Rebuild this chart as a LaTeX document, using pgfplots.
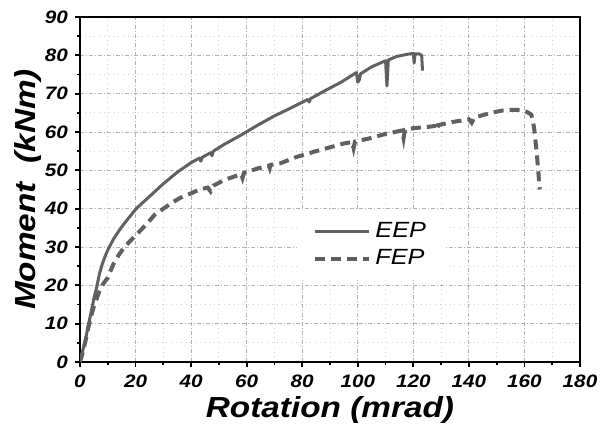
\documentclass[border=0pt]{standalone}
\usepackage{fontspec}
\setmainfont{Liberation Sans}
\newfontfamily\stretchfont[FakeStretch=1.15]{Liberation Sans}
\usepackage{pgfplots}
\pgfplotsset{compat=1.18}
\definecolor{lc}{HTML}{606060}
\begin{document}
\begin{tikzpicture}
\begin{axis}[
  scale only axis, width=250pt, height=172.5pt,
  xmin=0, xmax=180, ymin=0, ymax=90,
  xtick={0,20,...,180}, ytick={0,10,...,90},
  minor tick num=1,
  xtick pos=bottom, ytick pos=left,
  tick align=outside,
  major tick length=2.5pt, minor tick length=1.5pt,
  every tick/.style={black, line width=0.9pt},
  axis line style={line width=1pt},
  grid=both,
  major grid style={gray!60, line width=0.4pt, dash pattern=on 2pt off 1pt on 0.5pt off 1pt},
  minor grid style={gray!35, line width=0.4pt, dotted},
  /pgf/number format/assume math mode=true,
  ticklabel style={font=\stretchfont\fontsize{9}{10}\selectfont\bfseries\itshape},
  xticklabel style={yshift=-0.5pt},
  xlabel={Rotation (mrad)},
  ylabel={Moment\ \ (kNm)},
  label style={font=\stretchfont\fontsize{14.5}{16}\selectfont\bfseries\itshape},
  xlabel style={at={(axis description cs:0.5,-0.139)}, anchor=center},
  ylabel style={at={(axis description cs:-0.104,0.5)}, anchor=center},
  legend style={at={(0.434,0.44)}, anchor=north west, draw=none, fill=white,
    font=\stretchfont\fontsize{11}{13}\selectfont\itshape, row sep=0.5pt,
    inner xsep=8pt, inner ysep=4pt},
  legend cell align=left,
  legend image code/.code={\draw[#1] (0pt,0pt) -- (27pt,0pt);},
]
\addplot[lc, line width=1.5pt, line join=round] coordinates {
(0,0) (0.5,1.5) (1,3) (2,6) (3,9.5) (4,13) (5,16.5) (6,19.5) (7,23) (8,25.5)
(9,27.5) (10,29.2) (12,32) (14,34.2) (16,36.2) (18,38) (20,39.8) (22,41.2)
(24,42.5) (27,44.5) (30,46.5) (35,49.5) (40,52) (43,53.2) (43.5,52.4) (44,53.4)
(47,54.6) (47.5,53.8) (48,55) (52,56.8) (58,59.2) (64,61.8) (70,64.2) (76,66.3)
(82,68.5) (82.5,67.8) (83,68.7) (88,70.7) (94,73) (99.5,75.5) (100,73) (100.5,73.5)
(101,75.2) (105,77) (110,78.6) (110.5,72) (111,78.8) (114,79.7) (118,80.3)
(120,80.5) (120.3,78) (120.6,80.4) (122,80.4) (123,80) (123.3,76)
};
\addlegendentry{EEP}
\addplot[lc, line width=2pt, dash pattern=on 5pt off 3pt] coordinates {
(0,0) (1,2.5) (2,5.5) (3,9) (4,12) (5,14.5) (6,16.5) (7,18.5) (8,20) (10,22)
(12,25.5) (14,28) (16,30) (18,31.5) (20,33) (22,34.5) (24,36) (27,38.5) (30,40)
(33,41.5) (36,42.8) (40,44) (43,45) (46,45.5) (47,44.5) (48,46) (52,47.5)
(56,48.5) (58,49) (58.5,48) (59,49.3) (64,50.5) (68,51.2) (68.3,50.6) (68.6,51.4)
(72,51.8) (78,53.5) (85,55) (90,56) (95,57) (98,57.4) (98.5,55.8) (99,57.5)
(104,58.3) (110,59.5) (116,60.4) (116.5,58.4) (117,60.6) (120,61) (126,61.4)
(128,61.6) (128.5,60.5) (129,61.8) (134,62.6) (140,63.3) (141,62.4) (142,63.8)
(148,65) (152,65.6) (156,65.8) (159,65.7) (161,65.2) (162.5,64.5) (163.5,61)
(164.5,54) (165.5,45)
};
\addlegendentry{FEP}
\end{axis}
\pgfresetboundingbox
\path[use as bounding box] (current axis.south west) ++(-40pt,-38.5pt) rectangle ([shift={(10pt,8.5pt)}]current axis.north east);
\end{tikzpicture}
\end{document}
